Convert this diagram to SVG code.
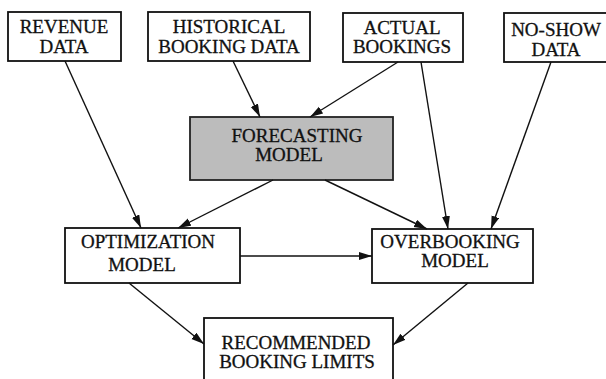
<svg xmlns="http://www.w3.org/2000/svg" width="606" height="379" viewBox="0 0 606 379">
<style>
.box{fill:#fff;stroke:#111;stroke-width:1.8}
.shade{fill:#bcbcbc;stroke:#222;stroke-width:1.8}
text{font-family:"Liberation Serif","Times New Roman",serif;font-size:19px;fill:#111;stroke:#111;stroke-width:0.3;text-anchor:middle}
.edge{stroke:#111;stroke-width:1.4;fill:none;marker-end:url(#ah)}
</style>
<defs>
<marker id="ah" markerUnits="userSpaceOnUse" markerWidth="14" markerHeight="9" refX="13" refY="4" orient="auto">
<path d="M0,0 L13,4 L0,8 Z" fill="#111"/>
</marker>
</defs>
<rect width="606" height="379" fill="#fff"/>
<g id="revenue"><rect class="box" x="8" y="12" width="113" height="49"/><text x="64" y="33">REVENUE</text><text x="64" y="53">DATA</text></g>
<g id="historical"><rect class="box" x="148" y="12" width="162" height="49"/><text x="229" y="33">HISTORICAL</text><text x="229" y="53">BOOKING DATA</text></g>
<g id="actual"><rect class="box" x="343" y="13" width="120" height="49"/><text x="402" y="34">ACTUAL</text><text x="402" y="53">BOOKINGS</text></g>
<g id="noshow"><rect class="box" x="504" y="13" width="110" height="49"/><text x="556" y="36">NO-SHOW</text><text x="556" y="56">DATA</text></g>
<g id="forecasting"><rect class="shade" x="190" y="117" width="203" height="63"/><text x="297" y="142">FORECASTING</text><text x="289" y="161">MODEL</text></g>
<g id="optimization"><rect class="box" x="65" y="228" width="175" height="55"/><text x="148" y="248">OPTIMIZATION</text><text x="142" y="271">MODEL</text></g>
<g id="overbooking"><rect class="box" x="372" y="229" width="161" height="54"/><text x="450" y="248">OVERBOOKING</text><text x="455" y="267">MODEL</text></g>
<g id="recommended"><rect class="box" x="204" y="318" width="189" height="80"/><text x="296" y="349">RECOMMENDED</text><text x="297" y="368">BOOKING LIMITS</text></g>
<g id="connectors">
<line class="edge" x1="65" y1="61" x2="141" y2="228"/>
<line class="edge" x1="233" y1="61" x2="260" y2="117"/>
<line class="edge" x1="398" y1="62" x2="310" y2="117"/>
<line class="edge" x1="421" y1="62" x2="448" y2="229"/>
<line class="edge" x1="551" y1="62" x2="491" y2="229"/>
<line class="edge" x1="273" y1="180" x2="178" y2="228"/>
<line class="edge" x1="325" y1="180" x2="427" y2="229"/>
<line class="edge" x1="240" y1="256" x2="372" y2="256"/>
<line class="edge" x1="129" y1="283" x2="204" y2="344"/>
<line class="edge" x1="468" y1="283" x2="393" y2="345"/>
</g>
</svg>
